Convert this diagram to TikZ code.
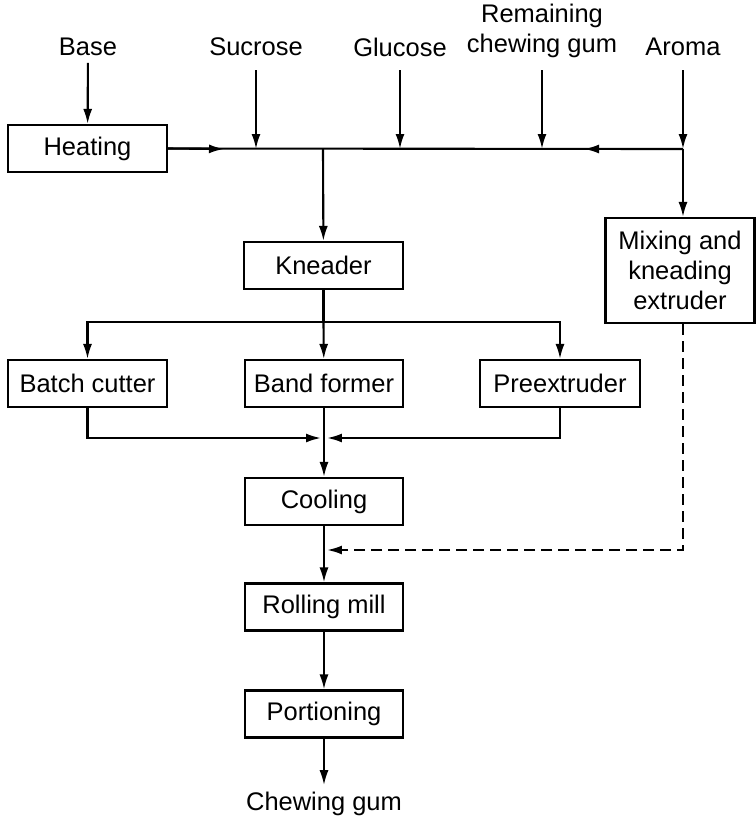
\documentclass[tikz,border=0pt]{standalone}
\usepackage{fontspec}
\setmainfont{Liberation Sans}
\usetikzlibrary{arrows.meta}
\begin{document}
\begin{tikzpicture}[x=0.02cm, y=-0.02cm, >={Latex[length=3mm,width=1.8mm]},
        line width=1.2pt, font=\fontsize{14.5}{17}\selectfont,
        box/.style={draw, line width=1.2pt, inner sep=0pt, minimum height=0.94cm, minimum width=3.17cm, align=center},
        flow/.style={->}]
    \useasboundingbox (0,0) rectangle (756,819);

    % --- Ingredients ---
    \node (base) at (88,47) {Base};
    \node (sucrose) at (256,47) {Sucrose};
    \node (glucose) at (400,47) {Glucose};
    \node[align=center] (rest) at (542,31) {Remaining\\chewing gum};
    \node (aroma) at (683,47) {Aroma};

    % --- Boxes ---
    \node[box] (heating) at (87.5,148.5) {Heating};
    \node[box] (kneader) at (323.5,265.5) {Kneader};
    \node[box, minimum width=2.98cm, minimum height=2.1cm] (mixer) at (680,270.5) {Mixing and\\kneading\\extruder};
    \node[box] (batch) at (87.5,383.5) {Batch cutter};
    \node[box] (band) at (324,383.5) {Band former};
    \node[box, minimum width=3.2cm] (pre) at (560,383.5) {Preextruder};
    \node[box] (cooling) at (324,501.5) {Cooling};
    \node[box] (rolling) at (324,607) {Rolling mill};
    \node[box] (portion) at (324,714) {Portioning};
    \node (gum) at (324,804) {Chewing gum};

    % --- Collecting line ---
    \coordinate (jmix) at (323,149);
    \coordinate (jaroma) at (683,149);
    \coordinate (tipl) at (224,149);
    \coordinate (tipr) at (584,149);
    \draw (heating.east) -- (jaroma);
    \draw[flow] (heating.east) -- (tipl);
    \draw[flow] (jaroma) -- (tipr);
    \draw[flow] (base) -- (heating);
    \draw[flow] (sucrose.south |- 0,70) -- (sucrose.south |- jmix);
    \draw[flow] (glucose.south |- 0,70) -- (glucose.south |- jmix);
    \draw[flow] (rest.south |- 0,70) -- (rest.south |- jmix);
    \draw[flow] (aroma.south |- 0,70) -- (jaroma);
    \draw[flow] (jaroma) -- (jaroma |- mixer.north);
    \draw[flow] (jmix) -- (kneader);

    % --- Branching ---
    \coordinate (split) at (323.5,322);
    \draw (kneader) -- (split);
    \draw[flow] (split) -| (batch);
    \draw[flow] (split) -| (pre);
    \draw[flow] (split) -- (band);

    % --- Merging ---
    \coordinate (mergel) at (321,438);
    \coordinate (merger) at (327,438);
    \draw[flow] (batch) |- (mergel);
    \draw[flow] (pre) |- (merger);
    \draw[flow] (band) -- (cooling);

    % --- Finishing ---
    \coordinate (dash) at (327,550);
    \draw[flow] (cooling) -- (rolling);
    \draw[flow, dashed, dash pattern=on 0.22cm off 0.12cm] (mixer.south -| jaroma) |- (dash);
    \draw[flow] (rolling) -- (portion);
    \draw[flow] (portion) -- (gum);
\end{tikzpicture}
\end{document}
